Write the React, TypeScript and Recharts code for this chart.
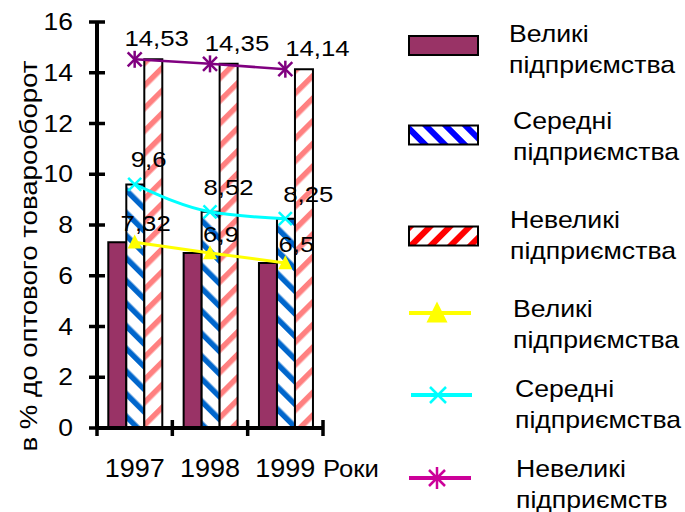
import React from 'react';
import { ComposedChart, Bar, Line, XAxis, YAxis, Legend, LabelList, Label } from 'recharts';

// ---- data ----
const years: string[] = ['1997', '1998', '1999'];
const bigValues: number[] = [7.32, 6.9, 6.5];
const midValues: number[] = [9.6, 8.52, 8.25];
const smallValues: number[] = [14.53, 14.35, 14.14];
const yTicks: number[] = [0, 2, 4, 6, 8, 10, 12, 14, 16];
const seriesFirstLines: string[] = ['Великі', 'Середні', 'Невеликі', 'Великі', 'Середні', 'Невеликі'];
const seriesSecondLines: string[] = ['підприємства', 'підприємства', 'підприємства', 'підприємства', 'підприємства', 'підприємств'];
const yAxisTitle = 'в % до оптового товарооборот';
const xAxisTitle = 'Роки';

const data = years.map((year, i) => ({ year, big: bigValues[i], mid: midValues[i], small: smallValues[i] }));

// ---- layout / style ----
const W = 685;
const H = 512;
const MARGIN = { top: 22, right: 362, bottom: 0, left: 0 };
const Y_AXIS_W = 97;
const X_AXIS_H = 84;
const PLOT_W = W - MARGIN.right - Y_AXIS_W;
const BAND = PLOT_W / years.length;
const FONT = '"Liberation Sans", Arial, sans-serif';

const C_BIG = '#993366';
const C_MID = '#0066CC';
const C_SMALL = '#FF8080';
const C_LINE_BIG = '#FFFF00';
const C_LINE_MID = '#00FFFF';
const C_LINE_SMALL = '#800080';
const C_LEG_SMALL = '#CC0099';

function SText({ x, y, sx = 1, size, anchor = 'start', rotate = 0, children }: any) {
  const tf = `translate(${x},${y})${rotate ? ` rotate(${rotate})` : ''} scale(${sx},1)`;
  return (
    <text transform={tf} x={0} y={0} fontSize={size} fontFamily={FONT} textAnchor={anchor} fill="#000">
      {children}
    </text>
  );
}

const fmt = (v: number) => String(v).replace('.', ',');

const YTick = (props: any) => {
  const { x, y, payload } = props;
  return (
    <g>
      <line x1={x - 8} x2={x + 8} y1={y} y2={y} stroke="#000" strokeWidth={3.5} />
      <SText x={x - 24} y={y + 8} size={23} sx={1.15} anchor="end">{payload.value}</SText>
    </g>
  );
};

const XTick = (props: any) => {
  const { x, y, payload, index } = props;
  const half = BAND / 2;
  return (
    <g>
      <line x1={x - half} x2={x - half} y1={y - 8} y2={y + 8} stroke="#000" strokeWidth={3.5} />
      {index === years.length - 1 && (
        <line x1={x + half} x2={x + half} y1={y - 8} y2={y + 8} stroke="#000" strokeWidth={3.5} />
      )}
      <SText x={x} y={y + 49} size={25} sx={1.08} anchor="middle">{payload.value}</SText>
    </g>
  );
};

const XTitle = (props: any) => {
  const vb = props.viewBox || {};
  return <SText x={vb.x + vb.width + 0} y={vb.y + 49} size={24} sx={1.07}>{xAxisTitle}</SText>;
};

const YTitle = (props: any) => {
  const vb = props.viewBox || {};
  return <SText x={vb.x + 37} y={vb.y + vb.height / 2 + 31} size={23} sx={1.2} rotate={-90} anchor="middle">{yAxisTitle}</SText>;
};

const tri = (cx: number, cy: number, s: number, color: string) => (
  <polygon points={`${cx},${cy - s * 0.55} ${cx - s / 2},${cy + s * 0.45} ${cx + s / 2},${cy + s * 0.45}`} fill={color} />
);
const xMark = (cx: number, cy: number, r: number, color: string, w: number) => (
  <g>
    <line x1={cx - r} y1={cy - r} x2={cx + r} y2={cy + r} stroke={color} strokeWidth={w} />
    <line x1={cx - r} y1={cy + r} x2={cx + r} y2={cy - r} stroke={color} strokeWidth={w} />
  </g>
);
const star = (cx: number, cy: number, r: number, v: number, color: string, w: number) => (
  <g>
    {xMark(cx, cy, r, color, w)}
    <line x1={cx} y1={cy - v} x2={cx} y2={cy + v} stroke={color} strokeWidth={w} />
  </g>
);

const TriDot = (p: any) => <g key={`t${p.index}`}>{tri(p.cx, p.cy, 14, C_LINE_BIG)}</g>;
const XDot = (p: any) => <g key={`x${p.index}`}>{xMark(p.cx, p.cy, 6.5, C_LINE_MID, 2.5)}</g>;
const StarDot = (p: any) => <g key={`s${p.index}`}>{star(p.cx, p.cy, 7, 8.5, C_LINE_SMALL, 2.5)}</g>;

const makeLabel = (dx0: number, dxStep: number, dy: number) => (p: any) => {
  const { x, y, value, index } = p;
  return (
    <SText x={x + dx0 + dxStep * index} y={y + dy} size={23} sx={1.12} anchor="middle">{fmt(value)}</SText>
  );
};

const legendLayout = [
  { iconY: 45.5, textY: 42, textX: 509 },
  { iconY: 135, textY: 129, textX: 513 },
  { iconY: 236, textY: 228, textX: 510 },
  { iconY: 313, textY: 317, textX: 513 },
  { iconY: 395, textY: 397, textX: 515 },
  { iconY: 478, textY: 477, textX: 516 },
];
const LEG_LEFT = 395;

const LegendSvg = () => {
  const ox = LEG_LEFT;
  const icons = [
    (cy: number) => <rect x={409 - ox} y={cy - 9.5} width={69} height={19} fill={C_BIG} stroke="#000" strokeWidth={2} />,
    (cy: number) => <rect x={409 - ox} y={cy - 9.5} width={69} height={19} fill="url(#legMid)" stroke="#000" strokeWidth={2} />,
    (cy: number) => <rect x={409 - ox} y={cy - 9.5} width={69} height={19} fill="url(#legSmall)" stroke="#000" strokeWidth={2} />,
    (cy: number) => (
      <g>
        <line x1={409 - ox} x2={471 - ox} y1={cy} y2={cy} stroke={C_LINE_BIG} strokeWidth={4} />
        {tri(437 - ox, cy, 21, C_LINE_BIG)}
      </g>
    ),
    (cy: number) => (
      <g>
        <line x1={411 - ox} x2={472 - ox} y1={cy} y2={cy} stroke={C_LINE_MID} strokeWidth={4} />
        {xMark(438 - ox, cy, 8, C_LINE_MID, 2.5)}
      </g>
    ),
    (cy: number) => (
      <g>
        <line x1={409 - ox} x2={471 - ox} y1={cy} y2={cy} stroke={C_LEG_SMALL} strokeWidth={4} />
        {star(437 - ox, cy, 8, 11, C_LEG_SMALL, 2.5)}
      </g>
    ),
  ];
  return (
    <svg width={W - ox} height={H} style={{ overflow: 'visible', display: 'block' }}>
      <defs>
        <pattern id="legMid" patternUnits="userSpaceOnUse" width={14} height={14} patternTransform="rotate(-45)">
          <rect width={14} height={14} fill="#fff" />
          <rect width={6} height={14} fill="#0000FF" />
        </pattern>
        <pattern id="legSmall" patternUnits="userSpaceOnUse" width={14} height={14} patternTransform="rotate(45)">
          <rect width={14} height={14} fill="#fff" />
          <rect width={6} height={14} fill="#FF0000" />
        </pattern>
      </defs>
      {legendLayout.map((l, i) => (
        <g key={i}>
          {icons[i](l.iconY)}
          <SText x={l.textX - ox} y={l.textY} size={24} sx={1.11}>{seriesFirstLines[i]}</SText>
          <SText x={l.textX - ox} y={l.textY + 31} size={24} sx={1.11}>{seriesSecondLines[i]}</SText>
        </g>
      ))}
    </svg>
  );
};

export default function App() {
  return (
    <div style={{ position: 'absolute', left: 0, top: 0, width: W, height: H, background: '#fff', overflow: 'hidden' }}>
      <ComposedChart width={W} height={H} data={data} margin={MARGIN} barCategoryGap="15%" barGap={0}>
        <defs>
          <pattern id="midPat" patternUnits="userSpaceOnUse" width={16} height={16} patternTransform="rotate(-45)">
            <rect width={16} height={16} fill="#fff" />
            <rect width={5.5} height={16} fill={C_MID} />
          </pattern>
          <pattern id="smallPat" patternUnits="userSpaceOnUse" width={16} height={16} patternTransform="rotate(45)">
            <rect width={16} height={16} fill="#fff" />
            <rect width={5.5} height={16} fill={C_SMALL} />
          </pattern>
        </defs>
        <XAxis xAxisId="top" orientation="top" dataKey="year" height={0} tick={false} tickLine={false}
          axisLine={{ stroke: '#808080', strokeWidth: 2 }} />
        <YAxis yAxisId="right" orientation="right" width={0} domain={[0, 16]} ticks={yTicks} tick={false} tickLine={false}
          axisLine={{ stroke: '#808080', strokeWidth: 2 }} />
        <XAxis dataKey="year" height={X_AXIS_H} tickSize={0} tickMargin={0} tickLine={false} tick={<XTick />}
          axisLine={{ stroke: '#000', strokeWidth: 4 }} interval={0}>
          <Label content={<XTitle />} />
        </XAxis>
        <YAxis width={Y_AXIS_W} domain={[0, 16]} ticks={yTicks} interval={0} tickSize={0} tickMargin={0} tickLine={false}
          tick={<YTick />} axisLine={{ stroke: '#000', strokeWidth: 4 }}>
          <Label content={<YTitle />} />
        </YAxis>
        <Bar dataKey="big" fill={C_BIG} stroke="#000" strokeWidth={2} isAnimationActive={false} />
        <Bar dataKey="mid" fill="url(#midPat)" stroke="#000" strokeWidth={2} isAnimationActive={false} />
        <Bar dataKey="small" fill="url(#smallPat)" stroke="#000" strokeWidth={2} isAnimationActive={false} />
        <Line dataKey="big" type="linear" stroke={C_LINE_BIG} strokeWidth={3} dot={TriDot} activeDot={false} isAnimationActive={false}>
          <LabelList dataKey="big" content={makeLabel(11, 0, -11)} />
        </Line>
        <Line dataKey="mid" type="monotone" stroke={C_LINE_MID} strokeWidth={3} dot={XDot} activeDot={false} isAnimationActive={false}>
          <LabelList dataKey="mid" content={makeLabel(14, 4.5, -17)} />
        </Line>
        <Line dataKey="small" type="linear" stroke={C_LINE_SMALL} strokeWidth={2.5} dot={StarDot} activeDot={false} isAnimationActive={false}>
          <LabelList dataKey="small" content={makeLabel(22, 5, -13)} />
        </Line>
        <Legend layout="vertical" align="center" verticalAlign="middle"
          wrapperStyle={{ left: LEG_LEFT, top: 0, width: W - LEG_LEFT, height: H }}
          content={() => <LegendSvg />} />
      </ComposedChart>
    </div>
  );
}
